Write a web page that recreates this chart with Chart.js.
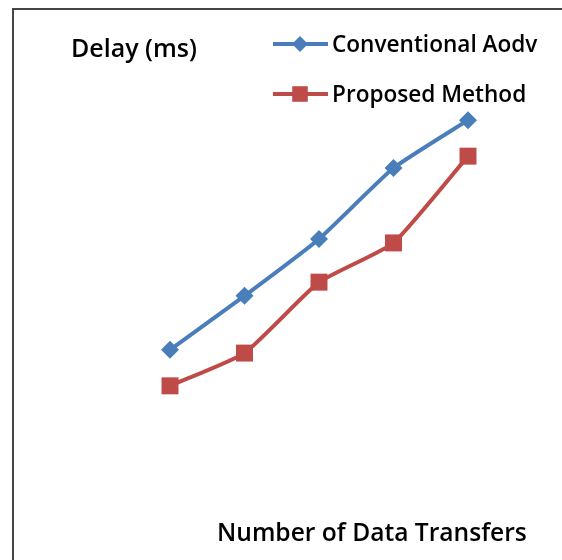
<!DOCTYPE html>
<html>
<head>
<meta charset="utf-8">
<script src="https://cdn.jsdelivr.net/npm/chart.js@4.4.1/dist/chart.umd.min.js"></script>
<style>
  html, body { margin: 0; padding: 0; background: #ffffff; overflow: hidden; }
  canvas { display: block; }
</style>
</head>
<body>
<canvas id="chart" width="562" height="560"></canvas>
<script>
// Number of data transfers (x) and delay in ms (y)
const transfers = ['1', '2', '3', '4', '5'];
const conventionalAodv = [3.06, 4.56, 6.14, 8.11, 9.44];
const proposedMethod = [2.06, 2.97, 4.94, 6.03, 8.44];

const yTitle = 'Delay (ms)';
const xTitle = 'Number of Data Transfers';
const seriesNames = ['Conventional Aodv', 'Proposed Method'];

const BLUE = '#4a7ebb';
const RED = '#be4b48';
const FAMILY = '"Open Sans", sans-serif';

function drawMarker(ctx, style, x, y, r, color) {
  ctx.save();
  ctx.fillStyle = color;
  ctx.beginPath();
  if (style === 'rectRot') {
    ctx.moveTo(x - r, y); ctx.lineTo(x, y - r); ctx.lineTo(x + r, y); ctx.lineTo(x, y + r);
  } else {
    const s = r * Math.SQRT1_2;
    ctx.rect(x - s, y - s, 2 * s, 2 * s);
  }
  ctx.closePath();
  ctx.fill();
  ctx.restore();
}

// Chart frame (top and left edges), axis captions and the line+marker legend
const captions = {
  id: 'captions',
  beforeDraw(chart) {
    const ctx = chart.ctx;
    ctx.save();
    ctx.fillStyle = '#ffffff';
    ctx.fillRect(0, 0, chart.width, chart.height);
    ctx.strokeStyle = '#454545';
    ctx.lineWidth = 2;
    ctx.beginPath();
    ctx.moveTo(13, chart.height);
    ctx.lineTo(13, 9);
    ctx.lineTo(chart.width + 2, 9);
    ctx.stroke();
    ctx.restore();
  },
  afterDraw(chart) {
    const ctx = chart.ctx;
    ctx.save();
    ctx.fillStyle = '#000000';
    ctx.textBaseline = 'alphabetic';
    ctx.textAlign = 'left';
    ctx.font = '600 25px ' + FAMILY;
    ctx.fillText(yTitle, 71, 57);
    ctx.font = '600 24.6px ' + FAMILY;
    ctx.fillText(xTitle, 217, 541);

    ctx.font = '600 22.6px ' + FAMILY;
    const rows = [44, 94];
    chart.data.datasets.forEach((ds, i) => {
      const y = rows[i];
      ctx.strokeStyle = ds.borderColor;
      ctx.lineWidth = 4;
      ctx.beginPath();
      ctx.moveTo(273, y);
      ctx.lineTo(328, y);
      ctx.stroke();
      drawMarker(ctx, ds.pointStyle, 300, y, ds.pointStyle === 'rectRot' ? 8 : 11, ds.borderColor);
      ctx.fillStyle = '#000000';
      ctx.fillText(ds.label, 332, y + 8);
    });
    ctx.restore();
  }
};

new Chart(document.getElementById('chart'), {
  type: 'line',
  data: {
    labels: transfers,
    datasets: [
      {
        label: seriesNames[0],
        data: conventionalAodv,
        borderColor: BLUE,
        backgroundColor: BLUE,
        borderWidth: 4,
        pointStyle: 'rectRot',
        pointRadius: 9,
        pointBorderWidth: 0,
        tension: 0.15,
        clip: false
      },
      {
        label: seriesNames[1],
        data: proposedMethod,
        borderColor: RED,
        backgroundColor: RED,
        borderWidth: 4,
        pointStyle: 'rect',
        pointRadius: 12,
        pointBorderWidth: 0,
        tension: 0.15,
        clip: false
      }
    ]
  },
  options: {
    responsive: false,
    animation: false,
    events: [],
    layout: { padding: { left: 170, right: 94, top: 100, bottom: 100 } },
    plugins: {
      legend: { display: false },
      title: { display: false },
      tooltip: { enabled: false }
    },
    scales: {
      x: { type: 'category', display: false, offset: false },
      y: { type: 'linear', display: false, min: 0, max: 10 }
    }
  },
  plugins: [captions]
});
</script>
</body>
</html>
